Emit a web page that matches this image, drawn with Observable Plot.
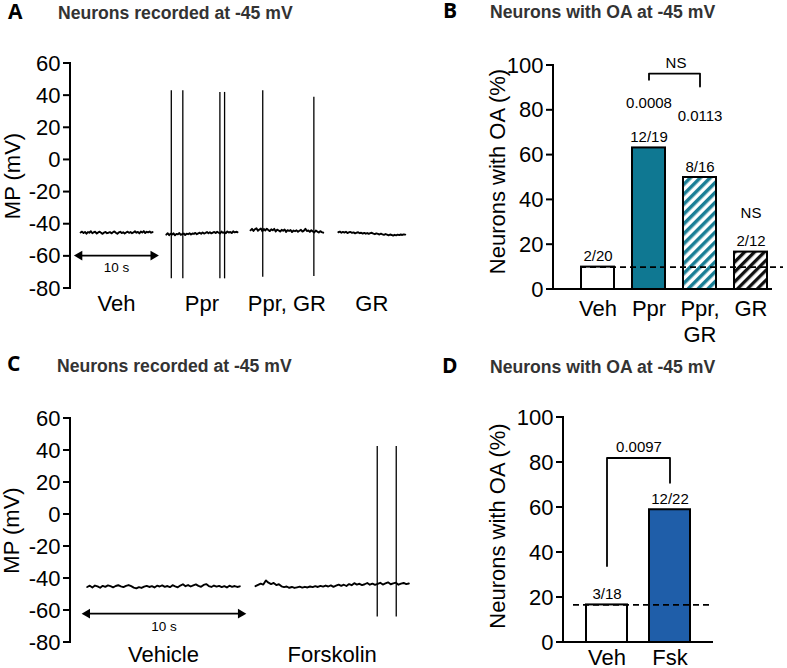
<!DOCTYPE html>
<html>
<head>
<meta charset="utf-8">
<script src="https://cdn.jsdelivr.net/npm/d3@7"></script>
<script src="https://cdn.jsdelivr.net/npm/@observablehq/plot@0.6"></script>
<style>
  body { margin: 0; background: #fff; }
  #fig { position: relative; width: 787px; height: 668px; overflow: hidden; background: #fff; }
  .panel { position: absolute; }
  .panel svg { overflow: visible; }
</style>
</head>
<body>
<svg width="0" height="0" style="position:absolute">
  <defs>
    <pattern id="hatchTeal" patternUnits="userSpaceOnUse" width="7" height="7" patternTransform="rotate(45)">
      <rect width="7" height="7" fill="#ffffff"></rect>
      <rect width="3.5" height="7" fill="#1a7f96"></rect>
    </pattern>
    <pattern id="hatchBlack" patternUnits="userSpaceOnUse" width="7" height="7" patternTransform="rotate(45)">
      <rect width="7" height="7" fill="#ffffff"></rect>
      <rect width="3.3" height="7" fill="#111111"></rect>
    </pattern>
  </defs>
</svg>
<div id="fig"></div>
<script>
// ================= DATA =================
const yTicksMP = [-80, -60, -40, -20, 0, 20, 40, 60];
const yTicksPct = [0, 20, 40, 60, 80, 100];

// ---- Panel A: example traces, neurons recorded at -45 mV ----
const traceNamesA = ["Veh", "Ppr", "Ppr, GR", "GR"];
const traceStartA = [1.4, 13.3, 25.0, 37.2];   // s
const traceEndA   = [11.4, 23.2, 35.1, 46.5];  // s
const vehA = [-45.2,-44.6,-45.5,-44.8,-45.9,-44.9,-45.3,-44.4,-45.6,-45.0,-44.7,-45.8,-45.1,-44.6,-45.4,-46.0,-45.2,-44.8,-45.6,-45.3,-44.9,-45.7,-45.0,-44.5,-45.3,-45.9,-45.1,-44.7,-45.5,-45.0,-45.8,-45.2,-44.6,-45.4,-44.9,-45.6,-45.1,-44.4,-45.3,-44.8,-45.7,-44.6,-45.2,-44.3,-45.5,-44.7,-45.1,-44.5,-45.3,-44.9];
const pprA = [-46.5,-45.6,-46.8,-45.9,-46.4,-45.7,-46.9,-46.0,-46.3,-45.5,-46.6,-46.1,-45.8,-46.7,-45.9,-46.2,-45.6,-46.4,-45.8,-46.0,-45.4,-46.2,-45.7,-45.3,-45.9,-45.1,-45.8,-45.4,-44.9,-45.6,-45.0,-45.7,-45.2,-44.8,-45.5,-44.7,-45.3,-45.8,-44.6,-45.4,-44.9,-45.6,-44.5,-45.2,-44.8,-45.5,-44.4,-45.1,-44.7,-45.0];
const pprGrA = [-43.8,-42.9,-44.2,-43.1,-42.5,-44.0,-43.3,-42.7,-44.4,-43.0,-43.9,-42.8,-43.6,-44.3,-43.2,-43.8,-42.9,-44.5,-43.4,-43.9,-44.6,-43.5,-44.1,-43.3,-44.8,-43.7,-44.2,-43.6,-44.9,-43.9,-44.4,-43.8,-44.7,-44.1,-43.5,-44.6,-44.0,-42.8,-44.3,-43.9,-44.8,-43.7,-44.5,-45.1,-43.9,-44.6,-45.2,-44.3,-44.9,-45.3];
const grA = [-45.0,-44.6,-45.3,-44.8,-45.2,-44.7,-45.5,-45.0,-44.8,-45.4,-45.1,-45.7,-45.2,-45.0,-45.6,-45.3,-45.8,-45.4,-45.9,-45.5,-46.0,-45.6,-45.3,-45.9,-46.2,-45.7,-46.0,-46.4,-45.9,-46.3,-46.6,-46.1,-46.5,-46.9,-46.4,-46.7,-47.1,-46.6,-46.9,-46.5,-46.8,-46.4,-46.7,-46.3,-46.5];
const tracesA = [vehA, pprA, pprGrA, grA];
const spikeTimesA   = [14.0, 15.6, 20.75, 21.4, 26.7, 33.8];
const spikePeaksA   = [43, 43, 42, 42, 43, 39];
const spikeTroughsA = [-74, -74, -74, -74, -73, -72.5];
const scaleBarA = {t1: 1.25, t2: 11.5, v: -59.5, label: "10 s"};

// ---- Panel B: % neurons with OA ----
const catsB   = ["Veh", "Ppr", "Ppr, GR", "GR"];
const pctB    = [10, 63.2, 50, 16.7];
const countsB = ["2/20", "12/19", "8/16", "2/12"];
const chanceB = 10;
const pTextB  = ["0.0008", "0.0113", "NS"];
const pCatB   = ["Ppr", "Ppr, GR", "GR"];
const pYB     = [83, 77.3, 34];
const bracketCatB = ["Ppr", "Ppr", "Ppr, GR", "Ppr, GR"];
const bracketYB   = [93.6, 96.4, 96.4, 90.6];
const bracketLabelB = "NS";
const bracketLabelYB = 100.9;

// ---- Panel C: example traces ----
const traceNamesC = ["Vehicle", "Forskolin"];
const traceStartC = [1.1, 12.17];
const traceEndC   = [11.14, 22.26];
const vehC = [-45.3,-44.5,-45.6,-44.4,-44.9,-45.8,-44.6,-45.2,-44.3,-44.8,-45.5,-44.7,-44.2,-44.9,-45.4,-44.6,-44.1,-44.8,-45.7,-46.2,-45.4,-45.9,-45.1,-44.6,-45.3,-44.8,-45.6,-44.5,-45.0,-44.3,-45.2,-44.7,-45.4,-44.2,-44.9,-45.5,-44.4,-43.6,-44.8,-44.1,-45.0,-44.3,-43.7,-44.6,-45.2,-44.0,-43.5,-44.7,-45.3,-44.4,-45.1,-44.6,-45.4,-44.8,-45.6,-44.5,-45.2,-44.7,-45.3,-44.9];
const fskC = [-44.8,-44.0,-43.2,-43.8,-41.2,-42.6,-43.5,-42.8,-44.1,-43.6,-44.9,-45.4,-45.0,-45.8,-45.3,-45.9,-45.5,-45.1,-45.7,-45.2,-45.6,-45.0,-45.4,-44.8,-45.3,-44.6,-45.1,-44.4,-45.0,-44.3,-45.2,-44.5,-43.8,-44.6,-43.9,-44.7,-43.5,-44.2,-42.9,-43.8,-43.3,-44.1,-43.6,-42.8,-43.9,-43.2,-44.0,-43.4,-42.7,-43.8,-43.1,-42.4,-43.6,-43.0,-42.6,-43.9,-43.2,-42.8,-43.5,-43.1];
const tracesC = [vehC, fskC];
const spikeTimesC   = [20.18, 21.43];
const spikePeaksC   = [42.5, 42.5];
const spikeTroughsC = [-64, -64];
const scaleBarC = {t1: 1.1, t2: 11.2, v: -62, label: "10 s"};

// ---- Panel D: % neurons with OA ----
const catsD   = ["Veh", "Fsk"];
const pctD    = [16.7, 59];
const countsD = ["3/18", "12/22"];
const chanceD = 16.7;
const bracketCatD = ["Veh", "Veh", "Fsk", "Fsk"];
const bracketYD   = [34, 82, 82, 71];
const bracketLabelD = "0.0097";
const bracketLabelYD = 87;

// ---- Titles ----
const panelLetters = ["A", "B", "C", "D"];
const panelTitles = ["Neurons recorded at -45 mV", "Neurons with OA at -45 mV", "Neurons recorded at -45 mV", "Neurons with OA at -45 mV"];

// ================= STYLE =================
const FONT = "'Liberation Sans', Arial, Helvetica, sans-serif";
const colorPpr = "#0f7892";
const colorFsk = "#1f5ea9";
const fillB = {"Veh": "#ffffff", "Ppr": colorPpr, "Ppr, GR": "url(#hatchTeal)", "GR": "url(#hatchBlack)"};
const fillD = {"Veh": "#ffffff", "Fsk": colorFsk};
const baseStyle = {fontFamily: FONT, fontSize: "22px", color: "black", background: "transparent", overflow: "visible"};
const AXW = 2;   // axis line width
const TICK = 7;  // tick length

// ================= BUILD =================
function buildTraces(names, starts, ends, series) {
  const rows = [];
  series.forEach((vals, k) => {
    const n = vals.length;
    vals.forEach((v, i) => rows.push({trace: names[k], t: starts[k] + i * (ends[k] - starts[k]) / (n - 1), v}));
  });
  return rows;
}
function buildSpikes(ts, hi, lo) { return ts.map((t, i) => ({t, hi: hi[i], lo: lo[i]})); }
function traceLabels(names, starts, ends) { return names.map((name, i) => ({name, t: (starts[i] + ends[i]) / 2})); }

function tracePanel({traces, spikes, labels, bar, xMax, width, height, mt, mb, labelDy, barDy, titleDx}) {
  return Plot.plot({
    width, height, marginLeft: 70, marginRight: 0, marginTop: mt, marginBottom: mb,
    x: {domain: [0, xMax], axis: null},
    y: {domain: [-80, 60], axis: null},
    style: baseStyle,
    marks: [
      Plot.axisY({ticks: yTicksMP, tickSize: TICK, tickPadding: 3, fontSize: 22, tickFormat: d => String(d), label: null, stroke: "none"}),
      Plot.text(["MP (mV)"], {text: d => d, frameAnchor: "left", textAnchor: "middle", rotate: -90, dx: titleDx, fontSize: 22}),
      Plot.line(traces, {x: "t", y: "v", z: "trace", stroke: "black", strokeWidth: 1.9}),
      Plot.ruleX(spikes, {x: "t", y1: "lo", y2: "hi", stroke: "black", strokeWidth: 1.3}),
      Plot.link([bar], {x1: "t1", x2: "t2", y1: "v", y2: "v", stroke: "black", strokeWidth: 1.8}),
      Plot.dot([{t: bar.t1, v: bar.v, r: -90}, {t: bar.t2, v: bar.v, r: 90}], {x: "t", y: "v", rotate: "r", symbol: "triangle", r: 3.6, fill: "black", stroke: "none"}),
      Plot.text([bar], {x: d => (d.t1 + d.t2) / 2, y: "v", text: "label", dy: barDy, fontSize: 13.5}),
      Plot.text(labels, {x: "t", text: "name", frameAnchor: "bottom", dy: labelDy, fontSize: 22})
    ]
  });
}

function barPanel({cats, pct, counts, fills, chance, width, height, ml, mr, mt, mb, xRange, padInner, padOuter, chanceInset, bracket, bracketLabel, bracketLabelY, bracketDx, extraText, titleDx, titleDy, tickPad, countDy}) {
  const data = cats.map((c, i) => ({cat: c, pct: pct[i], count: counts[i], fill: fills[c]}));
  const xOpts = {domain: cats, axis: null, paddingInner: padInner, paddingOuter: padOuter};
  if (xRange) xOpts.range = xRange;
  return Plot.plot({
    width, height, marginLeft: ml, marginRight: mr, marginTop: mt, marginBottom: mb,
    x: xOpts,
    y: {domain: [0, 100], axis: null},
    color: {type: "identity"},
    style: baseStyle,
    marks: [
      Plot.barY(data, {x: "cat", y: "pct", fill: "fill", stroke: "black", strokeWidth: AXW}),
      Plot.ruleY([chance], {stroke: "black", strokeWidth: 1.8, strokeDasharray: "6,4", insetLeft: chanceInset[0], insetRight: chanceInset[1]}),
      Plot.axisY({ticks: yTicksPct, tickSize: TICK, tickPadding: 3, fontSize: 22, tickFormat: d => String(d), label: null, stroke: "none"}),
      Plot.axisX({tickSize: 0, tickPadding: tickPad, fontSize: 22, lineHeight: 1.15, tickFormat: d => d.replace(", ", ",\n"), label: null}),
      Plot.text(["Neurons with OA (%)"], {text: d => d, frameAnchor: "left", textAnchor: "middle", rotate: -90, dx: titleDx, dy: titleDy, fontSize: 22}),
      Plot.text(data, {x: "cat", y: "pct", text: "count", dy: countDy, fontSize: 15}),
      Plot.line(bracket, {x: "cat", y: "y", stroke: "black", strokeWidth: 1.8}),
      Plot.text([{cat: bracket[1].cat, y: bracketLabelY, label: bracketLabel}], {x: "cat", y: "y", text: "label", dx: bracketDx, fontSize: 15}),
      Plot.text(extraText, {x: "cat", y: "y", text: "label", fontSize: 15})
    ]
  });
}

const fig = document.getElementById("fig");
function place(node, left, top) {
  const d = document.createElement("div");
  d.className = "panel";
  d.style.left = left + "px";
  d.style.top = top + "px";
  d.appendChild(node);
  fig.appendChild(d);
}

const panels = [];

// Panel A
const pA = tracePanel({
  traces: buildTraces(traceNamesA, traceStartA, traceEndA, tracesA),
  spikes: buildSpikes(spikeTimesA, spikePeaksA, spikeTroughsA),
  labels: traceLabels(traceNamesA, traceStartA, traceEndA),
  bar: scaleBarA, xMax: 330 / 7.2, width: 400, height: 290, mt: 23, mb: 42,
  labelDy: 22, barDy: 12, titleDx: -58
});
place(pA, 0, 40);
panels.push({plot: pA, left: 0, top: 40, ml: 70, right: 400, ticks: yTicksMP, baseline: false});

// Panel C
const pC = tracePanel({
  traces: buildTraces(traceNamesC, traceStartC, traceEndC, tracesC),
  spikes: buildSpikes(spikeTimesC, spikePeaksC, spikeTroughsC),
  labels: traceLabels(traceNamesC, traceStartC, traceEndC),
  bar: scaleBarC, xMax: 350 / 15.2, width: 420, height: 290, mt: 38, mb: 28,
  labelDy: 19, barDy: 13, titleDx: -59
});
place(pC, 0, 380);
panels.push({plot: pC, left: 0, top: 380, ml: 70, right: 420, ticks: yTicksMP, baseline: false});

// Panel B
const pB = barPanel({
  cats: catsB, pct: pctB, counts: countsB, fills: fillB, chance: chanceB,
  width: 387, height: 290, ml: 153, mr: 15, mt: 25, mb: 41,
  xRange: [171, 377], padInner: 0.36, padOuter: 0.18, chanceInset: [27, -11],
  bracket: bracketCatB.map((c, i) => ({cat: c, y: bracketYB[i]})),
  bracketLabel: bracketLabelB, bracketLabelY: bracketLabelYB, bracketDx: 27,
  extraText: pTextB.map((t, i) => ({cat: pCatB[i], y: pYB[i], label: t})),
  titleDx: -56, titleDy: -6, tickPad: 9, countDy: -10.5
});
place(pB, 400, 40);
panels.push({plot: pB, left: 400, top: 40, ml: 153, right: 372, ticks: yTicksPct, baseline: true});

// Panel D
const pD = barPanel({
  cats: catsD, pct: pctD, counts: countsD, fills: fillD, chance: chanceD,
  width: 387, height: 290, ml: 163, mr: 74, mt: 37, mb: 28,
  xRange: null, padInner: 0.35, padOuter: 0.35, chanceInset: [10, 4],
  bracket: bracketCatD.map((c, i) => ({cat: c, y: bracketYD[i]})),
  bracketLabel: bracketLabelD, bracketLabelY: bracketLabelYD, bracketDx: 32,
  extraText: [],
  titleDx: -66, titleDy: -4, tickPad: 5, countDy: -11
});
place(pD, 400, 380);
panels.push({plot: pD, left: 400, top: 380, ml: 163, right: 313, ticks: yTicksPct, baseline: true});

// Overlay: titles + axis lines/ticks positioned with each plot's own y scale
const ns = "http://www.w3.org/2000/svg";
const ov = d3.select(fig).append("svg")
  .attr("width", 787).attr("height", 668)
  .style("position", "absolute").style("left", "0px").style("top", "0px")
  .style("pointer-events", "none").style("z-index", 20);

panels.forEach(p => {
  const ys = p.plot.scale("y");
  const dom = ys.domain;
  const yTop = ys.apply(dom[1]), yBot = ys.apply(dom[0]);
  const g = ov.append("g").attr("transform", `translate(${p.left},${p.top})`)
    .attr("fill", "#000").attr("stroke", "none");
  // axis line
  g.append("rect").attr("x", p.ml - AXW / 2).attr("y", yTop - AXW / 2)
    .attr("width", AXW).attr("height", yBot - yTop + AXW);
  // ticks
  p.ticks.forEach(t => {
    g.append("rect").attr("x", p.ml - TICK).attr("y", ys.apply(t) - AXW / 2)
      .attr("width", TICK).attr("height", AXW);
  });
  // baseline
  if (p.baseline) {
    g.append("rect").attr("x", p.ml - AXW / 2).attr("y", yBot - AXW / 2)
      .attr("width", p.right - p.ml + AXW / 2).attr("height", AXW);
  }
});

const letterPos = [[8, 19], [443, 18], [7, 371], [442, 373]];
const titlePos = [[58, 19], [490, 18], [57, 372], [490, 373]];
panelLetters.forEach((L, i) => {
  ov.append("text").attr("x", letterPos[i][0]).attr("y", letterPos[i][1])
    .attr("font-family", "'Open Sans', 'Liberation Sans', sans-serif")
    .attr("font-weight", 700).attr("font-size", 21).attr("fill", "#000").text(L);
  ov.append("text").attr("x", titlePos[i][0]).attr("y", titlePos[i][1])
    .attr("font-family", FONT)
    .attr("font-weight", 700).attr("font-size", 17.6).attr("fill", "#333").text(panelTitles[i]);
});
</script>
</body>
</html>
